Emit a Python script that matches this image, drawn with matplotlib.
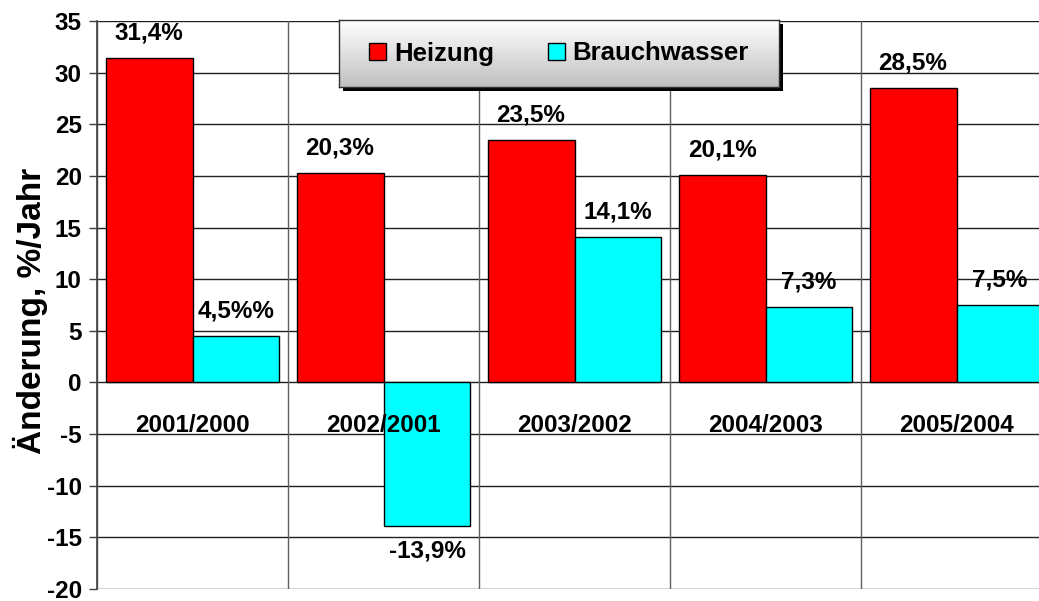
import matplotlib as mpl
mpl.use('Agg')
import matplotlib.pyplot as plt
import numpy as np
from matplotlib.patches import Patch, Rectangle

plt.rcParams['font.family'] = ['Liberation Sans', 'DejaVu Sans']
plt.rcParams['font.weight'] = 'bold'
plt.rcParams['axes.unicode_minus'] = False

kategorien = ["2001/2000", "2002/2001", "2003/2002", "2004/2003", "2005/2004"]
heizung = [31.4, 20.3, 23.5, 20.1, 28.5]
brauchwasser = [4.5, -13.9, 14.1, 7.3, 7.5]
heizung_txt = ["31,4%", "20,3%", "23,5%", "20,1%", "28,5%"]
brauch_txt = ["4,5%%", "-13,9%", "14,1%", "7,3%", "7,5%"]

W, H = 1039, 601
fig = plt.figure(figsize=(W / 100, H / 100), dpi=100)
# plot area runs past the right edge like in the original
ax = fig.add_axes([97 / W, (H - 589) / H, (1052 - 97) / W, 568 / H])

x = np.arange(len(kategorien))
bw = 0.455
ax.bar(x - bw / 2, heizung, bw, color='#ff0000', edgecolor='black', linewidth=1.0, zorder=3)
ax.bar(x + bw / 2, brauchwasser, bw, color='#00ffff', edgecolor='black', linewidth=1.0, zorder=3)

for i in range(len(kategorien)):
    ax.annotate(heizung_txt[i], (x[i] - bw / 2, heizung[i]), xytext=(0, 18),
                textcoords='offset points', ha='center', va='center', fontsize=17.5, zorder=5)
    v = brauchwasser[i]
    off = 18 if v >= 0 else -18
    ax.annotate(brauch_txt[i], (x[i] + bw / 2, v), xytext=(0, off),
                textcoords='offset points', ha='center', va='center', fontsize=17.5, zorder=5)
    ax.text(x[i], -4.2, kategorien[i], ha='center', va='center', fontsize=17.5, zorder=5)

ax.set_xlim(-0.5, len(kategorien) - 0.5)
ax.set_ylim(-20, 35)
ax.set_yticks(np.arange(-20, 36, 5))
ax.set_xticks([])
ax.tick_params(axis='y', length=6, width=1, color='#404040', pad=5, labelsize=17.5)
for lab in ax.get_yticklabels():
    lab.set_fontweight('bold')

for yv in np.arange(-20, 36, 5):
    ax.axhline(yv, color='#202020', linewidth=1.0, zorder=1)
for xv in np.arange(-0.5, len(kategorien), 1.0):
    ax.axvline(xv, color='#606060', linewidth=1.0, zorder=1)

for s in ['top', 'right', 'bottom']:
    ax.spines[s].set_visible(False)
ax.spines['left'].set_color('#404040')
ax.spines['left'].set_linewidth(1.2)

fig.text(30 / W, (H - 311) / H, "Änderung, %/Jahr", rotation=90, ha='center', va='center',
         fontsize=24, fontweight='bold')

# legend box with shadow and grey gradient
lx0, ly0, lw, lh = 339, 20, 440, 67
fig.patches.append(Rectangle(((lx0 + 4) / W, (H - ly0 - lh - 4) / H), lw / W, lh / H,
                             transform=fig.transFigure, facecolor='black', edgecolor='none', zorder=10))
lax = fig.add_axes([lx0 / W, (H - ly0 - lh) / H, lw / W, lh / H], zorder=11)
grad = np.linspace(1.0, 0.75, 100).reshape(-1, 1)
lax.imshow(grad, cmap='gray', vmin=0, vmax=1, aspect='auto', extent=[0, 1, 0, 1], origin='upper')
lax.set_xticks([])
lax.set_yticks([])
for s in lax.spines.values():
    s.set_color('#303030')
    s.set_linewidth(1.0)
handles = [Patch(facecolor='#ff0000', edgecolor='black', label='Heizung'),
           Patch(facecolor='#00ffff', edgecolor='black', label='Brauchwasser')]
lax.legend(handles=handles, loc='center', ncol=2, frameon=False,
           handlelength=0.65, handleheight=0.65, handletextpad=0.3, columnspacing=2.1,
           prop={'weight': 'bold', 'size': 18.5})

fig.savefig('out.png', dpi=100)
